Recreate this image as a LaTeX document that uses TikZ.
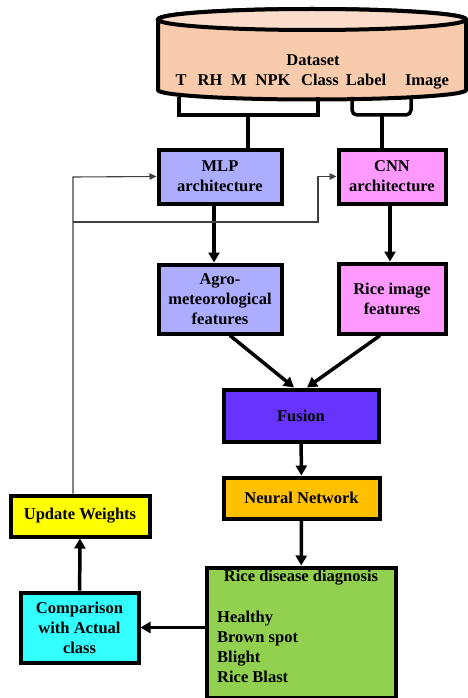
\documentclass[tikz,border=0pt]{standalone}
\usepackage{fontspec}
\setmainfont{Liberation Serif}
\usetikzlibrary{arrows.meta,calc}
\definecolor{dbbody}{HTML}{F8CBAD}
\definecolor{dbtop}{HTML}{FBDCCA}
\definecolor{mlpfill}{HTML}{ADADFF}
\definecolor{cnnfill}{HTML}{FF99FF}
\definecolor{fusfill}{HTML}{6633FF}
\definecolor{nnfill}{HTML}{FFC000}
\definecolor{diagfill}{HTML}{92D050}
\definecolor{cmpfill}{HTML}{33FFFF}
\definecolor{updfill}{HTML}{FFFF00}
\definecolor{fbline}{HTML}{404040}
\begin{document}
\begin{tikzpicture}[x=1pt,y=-1pt,
  lbl/.style={font=\bfseries\fontsize{16.5}{20}\selectfont, inner sep=0pt, text=black},
  box/.style={lbl, draw=black, line width=4pt, align=center},
  flow/.style={line width=3.5pt, -{Triangle[length=10pt,width=11pt]}},
  link/.style={line width=3.5pt},
  fb/.style={line width=1.1pt, draw=fbline, -{Triangle[length=7pt,width=6.5pt]}}]
\useasboundingbox (0,0) rectangle (468,698);

% dataset cylinder
\path[fill=dbbody, draw=black, line width=4pt]
  (158,19.5) -- (158,90) arc[start angle=180, end angle=0, x radius=154, y radius=9.5]
  -- (466,19.5) arc[start angle=0, end angle=-180, x radius=154, y radius=10.5] -- cycle;
\draw[fill=dbtop, line width=4pt] (312,19.5) ellipse [x radius=154, y radius=10.5];

\node[lbl] (ds) at (313,60) {Dataset};
\node[lbl, anchor=base] (fT)   at (181,85.5) {T};
\node[lbl, anchor=base] (fRH)  at (210,85.5) {RH};
\node[lbl, anchor=base] (fM)   at (239,85.5) {M};
\node[lbl, anchor=base] (fNPK) at (273,85.5) {NPK};
\node[lbl, anchor=base] (fCl)  at (320,85.5) {Class};
\node[lbl, anchor=base] (fLb)  at (366,85.5) {Label};
\node[lbl, anchor=base] (fIm)  at (427,85.5) {Image};

% processing boxes
\node[box, fill=mlpfill, minimum width=123, minimum height=54] (mlp) at (220,176.5) {MLP\\architecture};
\node[box, fill=cnnfill, minimum width=107, minimum height=54] (cnn) at (392,176.5) {CNN\\architecture};
\node[box, fill=mlpfill, minimum width=123, minimum height=69] (agro) at (220,299) {Agro-\\meteorological\\features};
\node[box, fill=cnnfill, minimum width=107, minimum height=70] (rimg) at (392,298.5) {Rice image\\features};
\node[box, fill=fusfill, minimum width=155, minimum height=52] (fus) at (301,415.5) {Fusion};
\node[box, fill=nnfill, minimum width=156, minimum height=41] (nn) at (301.5,498) {Neural Network};
\node[box, fill=diagfill, minimum width=189, minimum height=130, anchor=north] (diag) at (301,565.5) {};
\node[lbl] (diagt) at (301,578) {Rice disease diagnosis};
\node[lbl, anchor=west, align=left] (diagl) at (217,647) {Healthy\\Brown spot\\Blight\\Rice Blast};
\node[box, fill=cmpfill, minimum width=118, minimum height=70] (cmp) at (79.5,627.5) {Comparison\\with Actual\\class};
\node[box, fill=updfill, minimum width=139, minimum height=41] (upd) at (80,516) {Update Weights};

% dataset brackets
\coordinate (bl1) at (179,97);
\coordinate (bl2) at (318,97);
\coordinate (blm) at (248,115);
\draw[link] (bl1) |- (blm) -| (bl2);
\draw[link] (blm) -- (blm |- mlp.north);
\coordinate (br1) at (352,97);
\coordinate (br2) at (411,97);
\coordinate (brm) at (382,115);
\draw[link, rounded corners=5pt] (br1) |- (brm) -| (br2);
\draw[link] (brm) -- (brm |- cnn.north);

% forward flow
\draw[flow] (mlp.south -| 214,0) -- (agro.north -| 214,0);
\draw[flow] (cnn.south -| 390,0) -- (rimg.north -| 390,0);
\draw[flow] ($(agro.south)+(10,0)$) -- ($(fus.north)+(-7,0)$);
\draw[flow] ($(rimg.south)+(-12,0)$) -- ($(fus.north)+(6,0)$);
\draw[flow] (fus) -- (nn);
\draw[flow] (nn) -- (diag);
\draw[flow] (diag.west |- cmp.east) -- (cmp.east);
\draw[flow] (cmp) -- (upd);

% weight feedback
\coordinate (fbtop) at (73,177);
\coordinate (fbmid) at (73,222);
\coordinate (fbturn) at (318,222);
\draw[fb] (upd.north -| fbtop) -- (fbtop) -- (mlp.west);
\draw[fb] (fbmid) -- (fbturn) |- (cnn.west);
\end{tikzpicture}
\end{document}
